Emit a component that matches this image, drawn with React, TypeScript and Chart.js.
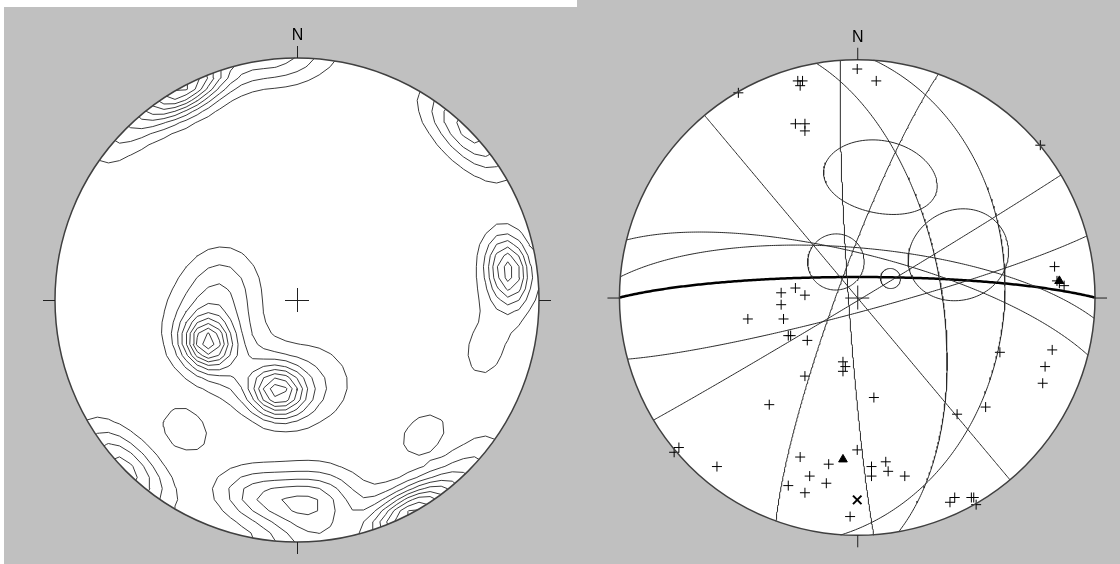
import { useEffect, useRef } from "react";
import { Chart, registerables } from "chart.js";

Chart.register(...registerables);

// ---------- Left net: contoured pole density ----------
// Concentration components, equal-area net coordinates (east, north) of each centre
const densityEast = [-0.372, -0.36, -0.31, -0.079, 0.05, -0.215, 0.875, 0.78, 0.06, -0.17, -0.47, -0.09, -0.71, -0.712, -0.463, 0.52];
const densityNorth = [-0.178, -0.13, 0.074, -0.38, -0.35, -0.31, 0.12, -0.2, -0.83, -0.81, 0.88, 0.996, 0.71, -0.702, -0.537, -0.555];
const densityWeight = [6.5, 3.2, 2, 7, 2, 1.5, 6.5, 1.25, 4.5, 3, 9, 3, 2, 4.5, 1.6, 1.6];
const densityKappa = [110, 30, 40, 90, 30, 50, 80, 30, 45, 55, 55, 45, 50, 45, 95, 113];
// kernel sharpness: 1 = Fisher-like fall-off, 2 = flat-topped with a steep rim
const densityShape = [1, 1, 1, 1, 1, 1, 1, 1, 1, 1, 1, 1, 1, 1, 2, 2];
const contourLevels = [1, 2, 3, 4, 5, 6, 7, 8, 9];

// ---------- Right net: poles, planes and confidence cones ----------
const poleEast = [
  0.0, 0.08, -0.25, -0.23, -0.24, -0.5, -0.26, -0.22, -0.22, 0.77,
  0.83, 0.85, 0.87, 0.84,
  -0.32, -0.26, -0.22, -0.32, -0.31, -0.46, -0.29, -0.28, -0.21,
  -0.06, -0.05, -0.06, -0.22, -0.37, 0.07,
  0.6, 0.82, 0.79, 0.78, 0.54, 0.42,
  -0.24, -0.12, 0.0, -0.2, -0.13, -0.29, -0.22, 0.06, 0.06, 0.12, 0.13, 0.2, -0.03,
  -0.59, -0.77, -0.75,
  0.39, 0.41, 0.48, 0.5, 0.49,
];
const poleNorth = [
  0.96, 0.91, 0.91, 0.91, 0.89, 0.86, 0.73, 0.73, 0.7, 0.64,
  0.13, 0.06, 0.05, 0.07,
  0.02, 0.04, 0.01, -0.03, -0.09, -0.09, -0.16, -0.16, -0.18,
  -0.27, -0.29, -0.31, -0.33, -0.45, -0.42,
  -0.23, -0.22, -0.29, -0.36, -0.46, -0.49,
  -0.67, -0.7, -0.64, -0.75, -0.78, -0.79, -0.82, -0.71, -0.75, -0.69, -0.73, -0.75, -0.92,
  -0.71, -0.65, -0.63,
  -0.86, -0.84, -0.84, -0.87, -0.84,
];
const meanPoleEast = [-0.06, 0.85];
const meanPoleNorth = [-0.68, 0.07];
const lineationEast = [0.0];
const lineationNorth = [-0.85];

// Planes as dip direction / dip (degrees)
const planeDipDir = [50, 266, 290, 80, 94, 14, 5, 165, 149];
const planeDip = [90, 87, 83, 61, 38, 75, 73, 85, 89];
const meanPlaneDipDir = [0];
const meanPlaneDip = [83];

// Confidence cones: axis in net coordinates, radial / tangential half-angles (degrees)
const coneEast = [0.1, 0.43, -0.09, 0.14];
const coneNorth = [0.51, 0.18, 0.15, 0.08];
const coneRadial = [13.3, 18.5, 9.6, 3.4];
const coneTangential = [18.3, 14.5, 9.6, 3.4];

// ---------- Lower-hemisphere equal-area projection helpers ----------
const DEG = Math.PI / 180;
type V3 = [number, number, number];
type P = { x: number; y: number };
const GAP: P = { x: NaN, y: NaN };

function netToVec(e: number, n: number): V3 {
  let r2 = e * e + n * n;
  if (r2 > 1) {
    const s = 1 / Math.sqrt(r2);
    e *= s;
    n *= s;
    r2 = 1;
  }
  const f = Math.sqrt(2 - r2);
  return [e * f, n * f, 1 - r2];
}

function vecToNet(v: V3): P {
  let [x, y, z] = v;
  if (z < 0) {
    x = -x;
    y = -y;
    z = -z;
  }
  const f = 1 / Math.sqrt(1 + z);
  return { x: x * f, y: y * f };
}

function greatCircle(dd: number, dip: number): P[] {
  const s: V3 = [Math.sin((dd - 90) * DEG), Math.cos((dd - 90) * DEG), 0];
  const d: V3 = [Math.cos(dip * DEG) * Math.sin(dd * DEG), Math.cos(dip * DEG) * Math.cos(dd * DEG), Math.sin(dip * DEG)];
  const pts: P[] = [];
  for (let i = 0; i <= 240; i++) {
    const t = (i / 240) * Math.PI;
    const c = Math.cos(t), sn = Math.sin(t);
    pts.push(vecToNet([c * s[0] + sn * d[0], c * s[1] + sn * d[1], Math.max(0, c * s[2] + sn * d[2])]));
  }
  return pts;
}

function cone(e: number, n: number, ar: number, at: number): P[] {
  const c = netToVec(e, n);
  const hl = Math.hypot(c[0], c[1]);
  const h: V3 = hl > 1e-9 ? [c[0] / hl, c[1] / hl, 0] : [1, 0, 0];
  const ct = c[2], st = hl;
  const u: V3 = [ct * h[0], ct * h[1], -st];
  const w: V3 = [-h[1], h[0], 0];
  const tr = Math.tan(ar * DEG), tt = Math.tan(at * DEG);
  const pts: P[] = [];
  for (let i = 0; i <= 120; i++) {
    const f = (i / 120) * 2 * Math.PI;
    const a = tr * Math.cos(f), b = tt * Math.sin(f);
    const v: V3 = [c[0] + a * u[0] + b * w[0], c[1] + a * u[1] + b * w[1], c[2] + a * u[2] + b * w[2]];
    const m = Math.hypot(v[0], v[1], v[2]);
    pts.push(vecToNet([v[0] / m, v[1] / m, v[2] / m]));
  }
  return pts;
}

// ---------- Density contouring (marching squares on the net) ----------
function buildContours(): P[][] {
  const centres = densityEast.map((e, i) => netToVec(e, densityNorth[i]));
  const dens = (e: number, n: number) => {
    const v = netToVec(e, n);
    let d = 0;
    for (let i = 0; i < centres.length; i++) {
      const c = centres[i];
      const dot = Math.abs(v[0] * c[0] + v[1] * c[1] + v[2] * c[2]);
      const s = densityKappa[i] * (1 - dot);
      d += densityWeight[i] * Math.exp(-Math.pow(s, densityShape[i]));
    }
    return d;
  };
  const N = 48;
  const x0 = -1.1;
  const h = 2.2 / N;
  const vals: number[][] = [];
  for (let j = 0; j <= N; j++) {
    const row: number[] = [];
    for (let i = 0; i <= N; i++) row.push(dens(x0 + i * h, x0 + j * h));
    vals.push(row);
  }
  return contourLevels.map((L) => {
    const out: P[] = [];
    const add = (p: number[], q: number[]) => {
      let [px, py] = p;
      let [qx, qy] = q;
      const pin = px * px + py * py <= 1;
      const qin = qx * qx + qy * qy <= 1;
      if (!pin && !qin) return;
      if (pin !== qin) {
        const dx = qx - px, dy = qy - py;
        const a = dx * dx + dy * dy;
        const b = 2 * (px * dx + py * dy);
        const c = px * px + py * py - 1;
        const disc = Math.sqrt(Math.max(0, b * b - 4 * a * c));
        const t1 = (-b + disc) / (2 * a);
        const t2 = (-b - disc) / (2 * a);
        const t = t1 >= 0 && t1 <= 1 ? t1 : t2;
        const ix = px + t * dx, iy = py + t * dy;
        if (pin) {
          qx = ix;
          qy = iy;
        } else {
          px = ix;
          py = iy;
        }
      }
      out.push({ x: px, y: py }, { x: qx, y: qy }, GAP);
    };
    for (let j = 0; j < N; j++) {
      for (let i = 0; i < N; i++) {
        const xa = x0 + i * h, ya = x0 + j * h;
        const c = [vals[j][i], vals[j][i + 1], vals[j + 1][i + 1], vals[j + 1][i]];
        const k = [
          [xa, ya],
          [xa + h, ya],
          [xa + h, ya + h],
          [xa, ya + h],
        ];
        const cr: (number[] | null)[] = [];
        for (let e = 0; e < 4; e++) {
          const a = c[e], b = c[(e + 1) % 4];
          if (a >= L !== b >= L) {
            const t = (L - a) / (b - a);
            const A = k[e], B = k[(e + 1) % 4];
            cr.push([A[0] + t * (B[0] - A[0]), A[1] + t * (B[1] - A[1])]);
          } else cr.push(null);
        }
        const found = cr.filter((p) => p !== null) as number[][];
        if (found.length === 2) add(found[0], found[1]);
        else if (found.length === 4) {
          const mid = (c[0] + c[1] + c[2] + c[3]) / 4;
          if (c[0] >= L === mid >= L) {
            add(cr[0]!, cr[1]!);
            add(cr[2]!, cr[3]!);
          } else {
            add(cr[0]!, cr[3]!);
            add(cr[1]!, cr[2]!);
          }
        }
      }
    }
    return out;
  });
}

// ---------- Net frame: white disc, primitive, ticks, north label, centre cross ----------
const netFrame = {
  id: "netFrame",
  beforeDatasetsDraw(chart: any) {
    const { ctx, scales } = chart;
    const cx = scales.x.getPixelForValue(0), cy = scales.y.getPixelForValue(0);
    const R = scales.x.getPixelForValue(1) - cx;
    ctx.save();
    ctx.fillStyle = "#ffffff";
    ctx.beginPath();
    ctx.arc(cx, cy, R, 0, 2 * Math.PI);
    ctx.fill();
    ctx.restore();
  },
  afterDatasetsDraw(chart: any) {
    const { ctx, scales } = chart;
    const cx = scales.x.getPixelForValue(0), cy = scales.y.getPixelForValue(0);
    const R = scales.x.getPixelForValue(1) - cx;
    ctx.save();
    ctx.strokeStyle = "#404040";
    ctx.lineWidth = 1.5;
    ctx.beginPath();
    ctx.arc(cx, cy, R, 0, 2 * Math.PI);
    ctx.stroke();
    ctx.strokeStyle = "#202020";
    ctx.lineWidth = 1;
    const t = 12;
    ctx.beginPath();
    ctx.moveTo(cx + 0.5, cy - R);
    ctx.lineTo(cx + 0.5, cy - R - t);
    ctx.moveTo(cx + 0.5, cy + R);
    ctx.lineTo(cx + 0.5, cy + R + t);
    ctx.moveTo(cx - R, cy + 0.5);
    ctx.lineTo(cx - R - t, cy + 0.5);
    ctx.moveTo(cx + R, cy + 0.5);
    ctx.lineTo(cx + R + t, cy + 0.5);
    ctx.moveTo(cx - 12, cy + 0.5);
    ctx.lineTo(cx + 12, cy + 0.5);
    ctx.moveTo(cx + 0.5, cy - 12);
    ctx.lineTo(cx + 0.5, cy + 12);
    ctx.stroke();
    ctx.fillStyle = "#000000";
    ctx.font = '16px "Liberation Sans", Arial, sans-serif';
    ctx.textAlign = "center";
    ctx.textBaseline = "alphabetic";
    ctx.fillText("N", cx + 0.5, cy - R - t - 6);
    ctx.restore();
  },
};

function baseOptions(xr: number[], yr: number[]): any {
  return {
    responsive: false,
    maintainAspectRatio: false,
    animation: false,
    events: [],
    layout: { padding: 0 },
    plugins: { legend: { display: false }, tooltip: { enabled: false } },
    scales: {
      x: { type: "linear", display: false, min: xr[0], max: xr[1] },
      y: { type: "linear", display: false, min: yr[0], max: yr[1] },
    },
    elements: { line: { tension: 0 }, point: { radius: 0 } },
  };
}

const lineSet = (data: P[], color: string, width: number) => ({
  type: "scatter",
  data,
  showLine: true,
  borderColor: color,
  borderWidth: width,
  pointRadius: 0,
  fill: false,
});

export default function App() {
  const leftRef = useRef<HTMLCanvasElement>(null);
  const rightRef = useRef<HTMLCanvasElement>(null);

  useEffect(() => {
    // left net: centre (297,300) px, radius 242 px inside a canvas at (5,8) sized 572x556
    const L = { x0: 5, y0: 8, w: 572, h: 556, cx: 297, cy: 300, r: 242 };
    const contours = buildContours();
    const left = new Chart(leftRef.current!, {
      type: "scatter",
      data: { datasets: contours.map((c) => lineSet(c, "#3c3c3c", 1)) as any },
      options: baseOptions(
        [(L.x0 - L.cx) / L.r, (L.x0 + L.w - L.cx) / L.r],
        [-(L.y0 + L.h - L.cy) / L.r, (L.cy - L.y0) / L.r]
      ),
      plugins: [netFrame as any],
    });

    // right net: centre (857.5,298) px, radius 245 px inside a canvas at (577,0) sized 543x564
    const Rn = { x0: 577, y0: 0, w: 543, h: 564, cx: 857.5, cy: 298, r: 245 };
    const datasets: any[] = [];
    planeDipDir.forEach((dd, i) => datasets.push(lineSet(greatCircle(dd, planeDip[i]), "#2a2a2a", 1)));
    coneEast.forEach((e, i) => datasets.push(lineSet(cone(e, coneNorth[i], coneRadial[i], coneTangential[i]), "#2a2a2a", 1)));
    meanPlaneDipDir.forEach((dd, i) => datasets.push(lineSet(greatCircle(dd, meanPlaneDip[i]), "#000000", 2.5)));
    datasets.push({
      type: "scatter",
      data: poleEast.map((e, i) => ({ x: e, y: poleNorth[i] })),
      pointStyle: "cross",
      pointRadius: 5,
      borderColor: "#000000",
      borderWidth: 1,
    });
    datasets.push({
      type: "scatter",
      data: meanPoleEast.map((e, i) => ({ x: e, y: meanPoleNorth[i] })),
      pointStyle: "triangle",
      pointRadius: 5,
      backgroundColor: "#000000",
      borderColor: "#000000",
      borderWidth: 1,
    });
    datasets.push({
      type: "scatter",
      data: lineationEast.map((e, i) => ({ x: e, y: lineationNorth[i] })),
      pointStyle: "crossRot",
      pointRadius: 6,
      borderColor: "#000000",
      borderWidth: 2,
    });
    const right = new Chart(rightRef.current!, {
      type: "scatter",
      data: { datasets },
      options: baseOptions(
        [(Rn.x0 - Rn.cx) / Rn.r, (Rn.x0 + Rn.w - Rn.cx) / Rn.r],
        [-(Rn.y0 + Rn.h - Rn.cy) / Rn.r, (Rn.cy - Rn.y0) / Rn.r]
      ),
      plugins: [netFrame as any],
    });
    return () => {
      left.destroy();
      right.destroy();
    };
  }, []);

  return (
    <div style={{ position: "fixed", left: 0, top: 0, width: 1120, height: 564, background: "#c0c0c0", overflow: "hidden" }}>
      <div style={{ position: "absolute", left: 0, top: 0, width: 577, height: 7, background: "#ffffff" }} />
      <div style={{ position: "absolute", left: 0, top: 0, width: 4, height: 564, background: "#ffffff" }} />
      <canvas ref={leftRef} width={572} height={556} style={{ position: "absolute", left: 5, top: 8 }} />
      <canvas ref={rightRef} width={543} height={564} style={{ position: "absolute", left: 577, top: 0 }} />
    </div>
  );
}
